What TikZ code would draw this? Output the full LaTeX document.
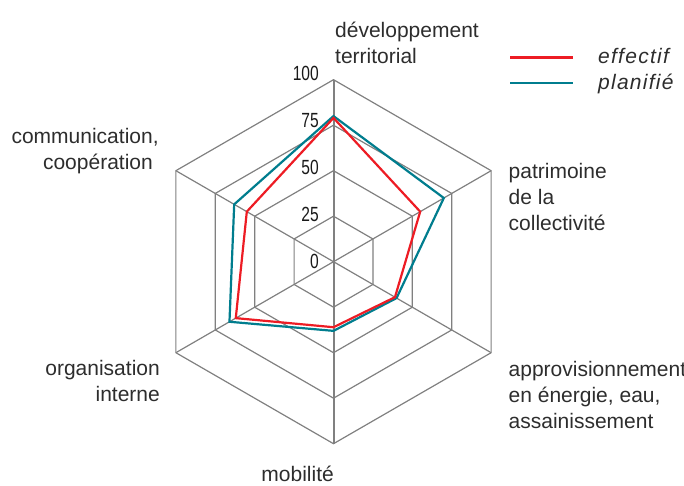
\documentclass[tikz,border=0pt]{standalone}
\usepackage{fontspec}
\setmainfont{Liberation Sans}
\newfontfamily\numfont{Liberation Sans}[FakeStretch=0.76]
\usetikzlibrary{positioning}

\definecolor{effred}{RGB}{237,28,36}
\definecolor{planteal}{RGB}{0,125,142}
\definecolor{gridgray}{RGB}{128,128,128}
\definecolor{textgray}{RGB}{45,45,45}

\begin{document}
\begin{tikzpicture}[x=1pt,y=1pt,line join=miter,
                    font=\fontsize{21}{26}\selectfont]
  \tikzstyle{grid line}=[draw=gridgray,line width=1.2pt]
  \tikzstyle{axis label}=[inner sep=0pt,text=textgray]
  \tikzstyle{scale label}=[inner sep=0pt,anchor=base east,text=black!90,
                           font=\numfont\fontsize{20.5}{21}\selectfont]
  \tikzstyle{legend text}=[inner sep=0pt,anchor=base west,text=textgray,
                           font=\fontsize{21}{26}\selectfont\itshape\addfontfeatures{LetterSpace=6}]
  \useasboundingbox (0,0) rectangle (684,485);

  \coordinate (O) at (333.5,223.3);

  \begin{scope}[shift={(O)}]
    % grid
    \foreach \r in {45.5,91,136.5,182}
      \draw[grid line] (90:\r) -- (30:\r) -- (-30:\r) -- (-90:\r)
                       -- (-150:\r) -- (150:\r) -- cycle;
    \foreach \a in {30,-30,-150,150}
      \draw[grid line] (0,0) -- (\a:182);
    \draw[grid line,line width=2pt] (90:182) -- (-90:182);

    % planifie
    \draw[planteal,line width=2.2pt] (90:{80*1.82}) -- (30:{70*1.82})
      -- (-30:{40*1.82}) -- (-90:{38*1.82}) -- (-150:{66*1.82})
      -- (150:{63*1.82}) -- cycle;
    % effectif
    \draw[effred,line width=2.2pt] (90:{79*1.82}) -- (30:{55*1.82})
      -- (-30:{39*1.82}) -- (-90:{36*1.82}) -- (-150:{62*1.82})
      -- (150:{55*1.82}) -- cycle;
  \end{scope}

  % scale
  \foreach \v [count=\k from 0] in {0,25,50,75,100}
    \node[scale label] (s\v) at (319,217+46.9*\k) {\v};

  % axis labels (base = last line)
  \node[axis label,anchor=base west,align=left] (devlabel) at (335,421.7)
    {développement\\territorial};
  \node[axis label,anchor=base west,align=left] (patlabel) at (508.5,254.3)
    {patrimoine\\de la\\collectivité};
  \node[axis label,anchor=base west,align=left] (applabel) at (508.5,56.7)
    {approvisionnement\\en énergie, eau,\\assainissement};
  \node[axis label,anchor=base east] (moblabel) at (334,3.5) {mobilité};
  \node[axis label,anchor=base east,align=right] (orglabel) at (160,83.3)
    {organisation\\interne};
  \node[axis label,anchor=base east,align=right] (comlabel) at (153,315.7)
    {communication\rlap{,}\\coopération};

  % legend
  \coordinate (effA) at (510,427.7);
  \coordinate (effB) at (572.7,427.7);
  \coordinate (planA) at (510,402);
  \coordinate (planB) at (572.7,402);
  \draw[effred,line width=2.8pt] (effA) -- (effB);
  \draw[planteal,line width=2.8pt] (planA) -- (planB);
  \node[legend text] (efftext) at (598,421.7) {effectif};
  \node[legend text] (plantext) at (598,395.5) {planifié};
\end{tikzpicture}
\end{document}
